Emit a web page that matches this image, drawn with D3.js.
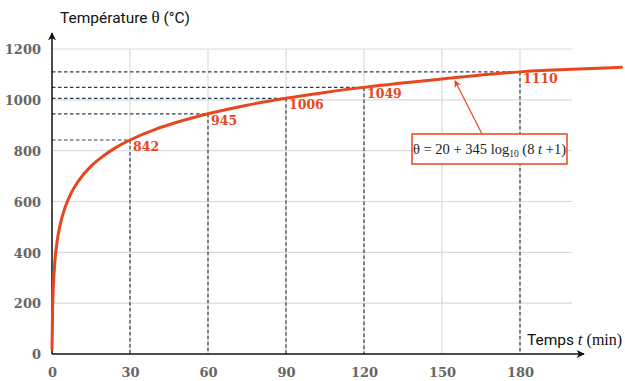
<!DOCTYPE html>
<html>
<head>
<meta charset="utf-8">
<script src="https://cdn.jsdelivr.net/npm/d3@7/dist/d3.min.js"></script>
<style>
  html, body { margin: 0; padding: 0; background: #fff; }
  svg { display: block; }
</style>
</head>
<body>
<svg id="chart" width="625" height="381"></svg>
<script>
// Fire curve: time (min) and gas temperature (°C)
const times = [0, 0.25, 0.5, 1, 2, 3, 5, 7.5, 10, 15, 20, 25, 30, 40, 45, 60, 75, 90, 105, 120, 150, 180, 200, 219];
const temps = [20, 185, 261, 349, 445, 502, 576, 636, 678, 739, 781, 815, 842, 885, 902, 945, 979, 1006, 1029, 1049, 1082, 1110, 1120, 1128];

// Marked readings
const markTimes = [30, 60, 90, 120, 180];
const markTemps = [842, 945, 1006, 1049, 1110];

// Tick labels
const xTicks = [0, 30, 60, 90, 120, 150, 180];
const yTicks = [0, 200, 400, 600, 800, 1000, 1200];

const svg = d3.select("#chart");
const x = d3.scaleLinear().domain([0, 200]).range([52, 572]);
const y = d3.scaleLinear().domain([0, 1200]).range([354, 49]);

const red = "#e8461e";
const dash = "#27404f";
const tickFont = "'DejaVu Serif', 'Liberation Serif', serif";
const textFont = "'Liberation Serif', 'DejaVu Serif', serif";

// Grid
const grid = svg.append("g").attr("stroke", "#dadada").attr("stroke-width", 1.2);
grid.selectAll("line.h").data(yTicks.filter(d => d > 0)).join("line")
  .attr("x1", x(0)).attr("x2", x(200))
  .attr("y1", d => y(d)).attr("y2", d => y(d));
grid.selectAll("line.v").data(xTicks.filter(d => d > 0)).join("line")
  .attr("x1", d => x(d)).attr("x2", d => x(d))
  .attr("y1", y(0)).attr("y2", y(1200));

// Dashed guides to the marked readings
const guides = svg.append("g").attr("stroke", dash).attr("stroke-width", 1.2)
  .attr("stroke-dasharray", "3.5,2.5").attr("fill", "none");
markTimes.forEach((t, i) => {
  const v = markTemps[i];
  guides.append("line").attr("x1", x(0)).attr("x2", x(t)).attr("y1", y(v)).attr("y2", y(v));
  guides.append("line").attr("x1", x(t)).attr("x2", x(t)).attr("y1", y(v)).attr("y2", y(0));
});

// Axis ticks (labels only)
const xAxis = svg.append("g").attr("transform", `translate(0,${y(0)})`)
  .call(d3.axisBottom(x).tickValues(xTicks).tickSize(0).tickPadding(14).tickFormat(d3.format("d")));
const yAxis = svg.append("g").attr("transform", `translate(${x(0)},0)`)
  .call(d3.axisLeft(y).tickValues(yTicks).tickSize(0).tickPadding(11).tickFormat(d3.format("d")));
[xAxis, yAxis].forEach(a => {
  a.select(".domain").remove();
  a.selectAll("text").attr("font-family", tickFont).attr("font-weight", "bold")
    .attr("font-size", 13).attr("fill", "#666");
});
yAxis.selectAll("text").attr("dy", "0.36em");

// Arrow markers
const defs = svg.append("defs");
defs.append("marker").attr("id", "axisArrow").attr("viewBox", "0 0 10 10")
  .attr("refX", 9).attr("refY", 5).attr("markerWidth", 11).attr("markerHeight", 8)
  .attr("markerUnits", "userSpaceOnUse").attr("orient", "auto")
  .append("path").attr("d", "M0,0 L10,5 L0,10 L2.5,5 Z").attr("fill", "#111");
defs.append("marker").attr("id", "noteArrow").attr("viewBox", "0 0 10 10")
  .attr("refX", 9).attr("refY", 5).attr("markerWidth", 9).attr("markerHeight", 7)
  .attr("markerUnits", "userSpaceOnUse").attr("orient", "auto")
  .append("path").attr("d", "M0,0 L10,5 L0,10 L2.5,5 Z").attr("fill", red);

// Axis lines
svg.append("line").attr("x1", x(0)).attr("x2", 584).attr("y1", y(0)).attr("y2", y(0))
  .attr("stroke", "#111").attr("stroke-width", 1.5).attr("marker-end", "url(#axisArrow)");
svg.append("line").attr("x1", x(0)).attr("x2", x(0)).attr("y1", y(0)).attr("y2", 33)
  .attr("stroke", "#111").attr("stroke-width", 1.5).attr("marker-end", "url(#axisArrow)");

// Curve
const line = d3.line().x((d, i) => x(times[i])).y(d => y(d)).curve(d3.curveMonotoneX);
svg.append("path").datum(temps).attr("d", line)
  .attr("fill", "none").attr("stroke", red).attr("stroke-width", 3).attr("stroke-linecap", "round");

// Reading labels
svg.append("g").selectAll("text").data(markTimes).join("text")
  .attr("x", d => x(d) + 3).attr("y", (d, i) => y(markTemps[i]) + 11)
  .attr("font-family", tickFont).attr("font-weight", "bold").attr("font-size", 12.5)
  .attr("fill", red).text((d, i) => markTemps[i]);

// Axis titles
const yTitle = svg.append("text").attr("x", 60).attr("y", 23)
  .attr("font-family", "Roboto, 'Noto Sans', sans-serif").attr("font-size", 15.5).attr("fill", "#111");
yTitle.append("tspan").text("Température ");
yTitle.append("tspan").attr("font-family", textFont).attr("font-size", 17).text("θ");
yTitle.append("tspan").text(" (°C)");

const xTitle = svg.append("text").attr("x", 527).attr("y", 345)
  .attr("font-family", "Roboto, 'Noto Sans', sans-serif").attr("font-size", 15.5).attr("fill", "#111");
xTitle.append("tspan").text("Temps ");
xTitle.append("tspan").attr("font-family", textFont).attr("font-style", "italic").attr("font-size", 17).text("t");
xTitle.append("tspan").attr("font-family", textFont).attr("font-size", 16).text(" (min)");

// Formula annotation
svg.append("line").attr("x1", 482).attr("y1", 134).attr("x2", x(155)).attr("y2", y(1075))
  .attr("stroke", red).attr("stroke-width", 1.2).attr("marker-end", "url(#noteArrow)");
svg.append("rect").attr("x", 412).attr("y", 134).attr("width", 155).attr("height", 30)
  .attr("fill", "#fff").attr("stroke", red).attr("stroke-width", 1.5);
const f = svg.append("text").attr("x", 489.5).attr("y", 154).attr("text-anchor", "middle")
  .attr("font-family", textFont).attr("font-size", 14.5).attr("fill", "#222");
f.append("tspan").text("θ = 20 + 345 log");
f.append("tspan").attr("font-size", 9.5).attr("dy", 3).text("10");
f.append("tspan").attr("dy", -3).text(" (8 ");
f.append("tspan").attr("font-style", "italic").text("t");
f.append("tspan").text(" +1)");
</script>
</body>
</html>
